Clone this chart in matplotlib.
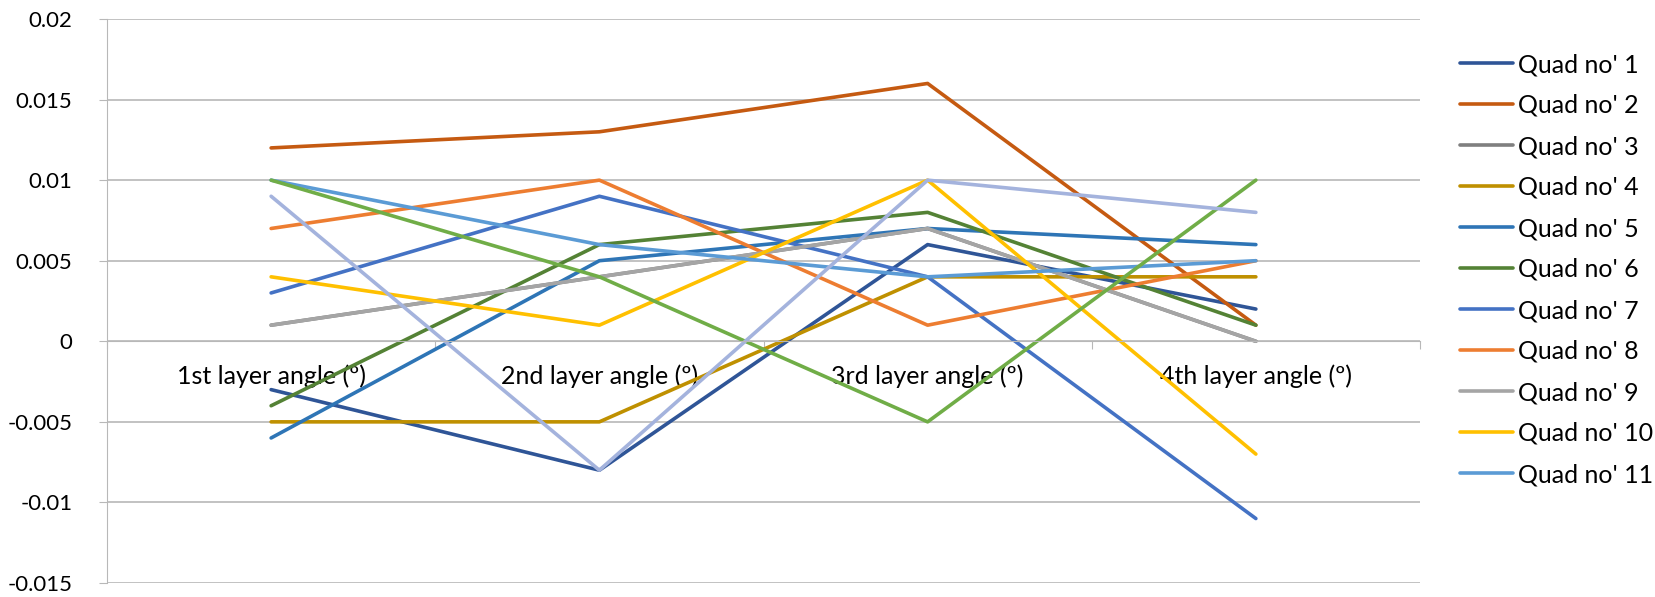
import matplotlib.pyplot as plt

plt.rcParams['font.family'] = ['Lato', 'DejaVu Sans']

# categories along the x axis
categories = ['1st layer angle (º)', '2nd layer angle (º)', '3rd layer angle (º)', '4th layer angle (º)']

# one list per quad
quad_names = ["Quad no' %d" % i for i in range(1, 14)]
q1 = [-0.003, -0.008, 0.006, 0.002]
q2 = [0.012, 0.013, 0.016, 0.001]
q3 = [0.001, 0.004, 0.007, 0.000]
q4 = [-0.005, -0.005, 0.004, 0.004]
q5 = [-0.006, 0.005, 0.007, 0.006]
q6 = [-0.004, 0.006, 0.008, 0.001]
q7 = [0.003, 0.009, 0.004, -0.011]
q8 = [0.007, 0.010, 0.001, 0.005]
q9 = [0.001, 0.004, 0.007, 0.000]
q10 = [0.004, 0.001, 0.010, -0.007]
q11 = [0.010, 0.006, 0.004, 0.005]
q12 = [0.010, 0.004, -0.005, 0.010]
q13 = [0.009, -0.008, 0.010, 0.008]
all_quads = [q1, q2, q3, q4, q5, q6, q7, q8, q9, q10, q11, q12, q13]

colors = ['#2F5597', '#C55A11', '#7F7F7F', '#BF9000', '#2E75B6', '#548235',
          '#4472C4', '#ED7D31', '#A5A5A5', '#FFC000', '#5B9BD5', '#70AD47', '#A4B3DD']

yticks = [-0.015, -0.01, -0.005, 0, 0.005, 0.01, 0.015, 0.02]
ytick_labels = ['-0.015', '-0.01', '-0.005', '0', '0.005', '0.01', '0.015', '0.02']

grid_col = '#B8B8B8'

fig = plt.figure(figsize=(16.55, 5.97), dpi=100)
ax = fig.add_axes([107 / 1655, 1 - 583 / 597, (1420 - 107) / 1655, (583 - 19) / 597])

xs = list(range(len(categories)))
lines = []
for vals, name, c in zip(all_quads, quad_names, colors):
    ln, = ax.plot(xs, vals, color=c, lw=2.6, label=name, solid_capstyle='round')
    lines.append(ln)

ax.set_xlim(-0.5, 3.5)
ax.set_ylim(-0.015, 0.02)
ax.set_yticks(yticks)
ax.set_yticklabels(ytick_labels, fontsize=16)
ax.yaxis.grid(True, color=grid_col, lw=1.2)
ax.set_axisbelow(True)

# category axis sits on the zero line
ax.spines['bottom'].set_position(('data', 0))
ax.spines['bottom'].set_color(grid_col)
ax.spines['left'].set_color(grid_col)
ax.spines['top'].set_visible(False)
ax.spines['right'].set_visible(False)

ax.set_xticks([-0.5, 0.5, 1.5, 2.5, 3.5])
ax.set_xticklabels([])
ax.set_xticks(xs, minor=True)
ax.set_xticklabels(categories, minor=True, fontsize=18)
ax.tick_params(axis='x', which='major', length=6, color=grid_col, direction='out')
ax.tick_params(axis='x', which='minor', length=0, pad=17)
ax.tick_params(axis='y', length=6, color=grid_col, direction='out', pad=19)

# legend only lists the first 11 quads
fig.legend(handles=lines[:11], loc='upper left', bbox_to_anchor=(1460 / 1655, 1 - 53 / 597),
           frameon=False, fontsize=18, handlelength=2.1, handletextpad=0.2,
           labelspacing=0.72, borderaxespad=0, borderpad=0)

fig.savefig('out.png', dpi=100)
